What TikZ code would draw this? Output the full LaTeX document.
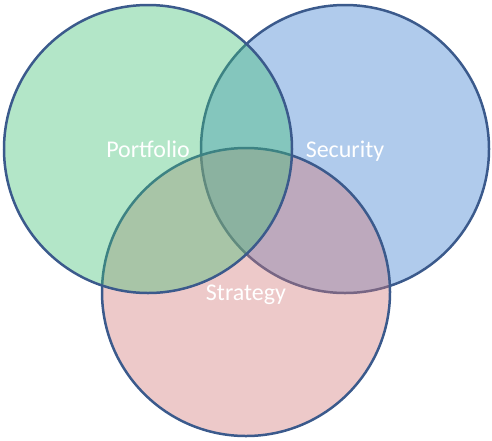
\documentclass[tikz,border=0pt]{standalone}
\usepackage{fontspec}
\setmainfont{Carlito}
\usepackage{tikz}
\usetikzlibrary{shapes.geometric}
\definecolor{vennline}{RGB}{59,90,140}
\definecolor{portgreen}{RGB}{65,192,118}
\definecolor{secblue}{RGB}{57,125,207}
\definecolor{stratpink}{RGB}{210,120,120}
\tikzstyle{setcircle} = [circle, minimum size=288pt, inner sep=0pt, draw=vennline, line width=2.5pt, fill opacity=0.4]
\tikzstyle{setlabel} = [text=white, font=\fontsize{24}{28}\selectfont, text height=1.5ex, text depth=0.25ex, yshift=-6pt]

\begin{document}
\begin{tikzpicture}[x=1pt,y=-1pt]

\useasboundingbox (0,0) rectangle (492,440);

\node (security) [setcircle, fill=secblue] at (345,149) {};
\node (strategy) [setcircle, fill=stratpink] at (246,292) {};
\node (portfolio) [setcircle, fill=portgreen] at (148,149) {};

\node (portlabel) [setlabel] at (portfolio.center) {Portfolio};
\node (seclabel) [setlabel] at (security.center) {Security};
\node (stratlabel) [setlabel] at (strategy.center) {Strategy};

\end{tikzpicture}
\end{document}
